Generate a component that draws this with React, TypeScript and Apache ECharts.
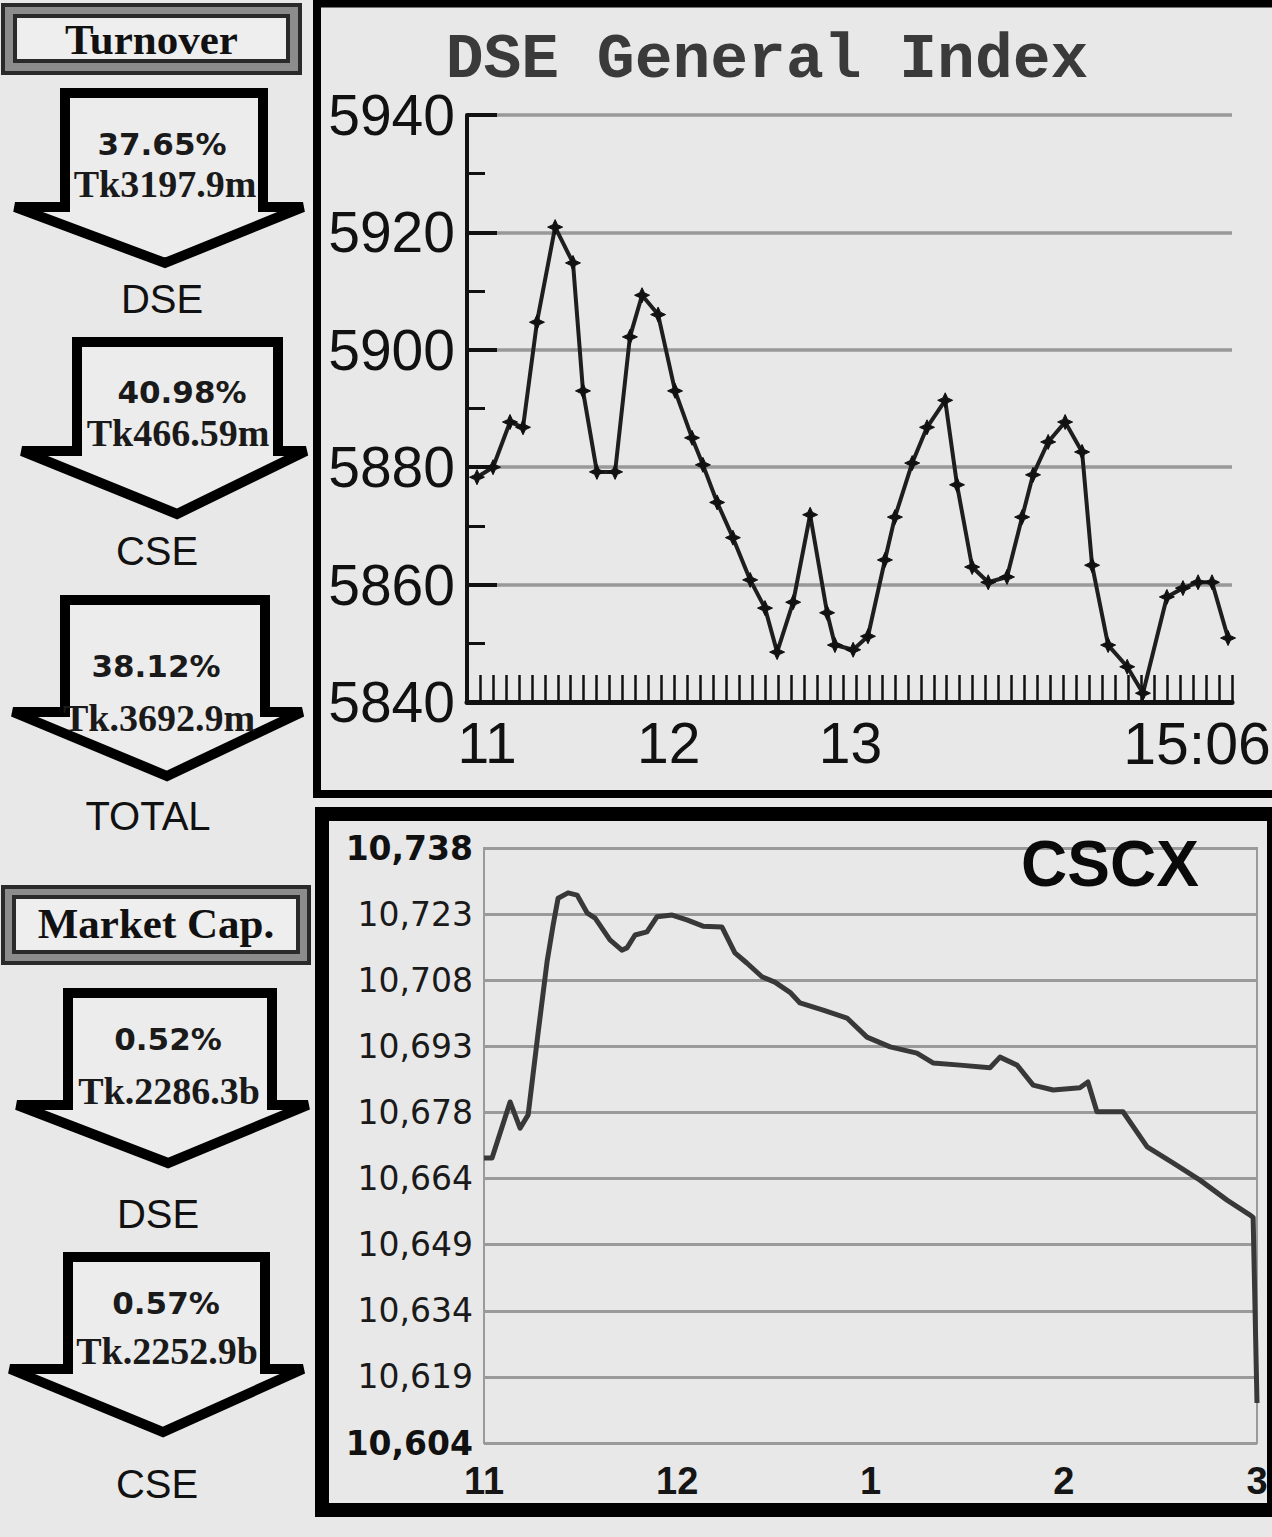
import React, { useEffect, useRef } from 'react';
import * as echarts from 'echarts';

// ---------- DSE General Index (minutes after 11:00, index value) ----------
const dseMinutes = [
  -3.3, 2, 7.6, 11.9, 16.5, 22.5, 28.4, 31.7, 36.3, 42.3, 47.2, 51.2, 56.5, 62.1, 67.7, 71.3,
  76, 81.2, 86.9, 91.8, 95.8, 101.1, 106.7, 112.3, 114.9, 120.9, 125.8, 131.4, 134.7, 140.4,
  145.3, 151.3, 155.2, 160.2, 165.5, 171.7, 176.7, 180.3, 185.3, 190.9, 196.5, 199.8, 205.1,
  211.4, 216.6, 224.5, 229.8, 234.8, 239.4, 244.7,
];
const dseValues = [
  5878.3, 5880, 5887.7, 5886.8, 5904.7, 5920.9, 5914.8, 5893, 5879.2, 5879.2, 5902.2, 5909.3,
  5906, 5893, 5885, 5880.4, 5874, 5868, 5860.8, 5856, 5848.5, 5857, 5871.9, 5855.2, 5849.7,
  5848.9, 5851.2, 5864.2, 5871.5, 5880.7, 5886.8, 5891.4, 5877, 5863, 5860.4, 5861.3, 5871.5,
  5878.7, 5884.3, 5887.7, 5882.6, 5863.3, 5849.7, 5846, 5841.5, 5857.9, 5859.4, 5860.4, 5860.4,
  5850.9,
];
const dseXLabelMinutes = [0, 60, 120, 246];
const dseXLabelText = ['11', '12', '13', '15:06'];

// ---------- CSCX (minutes after 11:00, index value) ----------
const cscxMinutes = [
  0, 2.5, 8.1, 11.2, 13.7, 16.8, 19.6, 21.5, 23, 26.1, 28.9, 32, 34.5, 39.1, 42.8, 44.4, 46.9,
  50.6, 53.7, 58.4, 63, 68, 73.9, 77.9, 81.6, 86.3, 90.3, 95, 98.1, 105.3, 112.7, 118.9, 126.1,
  134.4, 139.4, 147.8, 157.1, 160.2, 165.5, 170.5, 176.7, 185, 187.5, 190.3, 198.4, 205.9,
  213.9, 222.3, 230.7, 237.5, 238.8, 240,
];
const cscxValues = [
  10668.2, 10668.2, 10680.8, 10674.9, 10677.9, 10696.4, 10712.5, 10720.8, 10726.7, 10727.9,
  10727.4, 10723.4, 10722.2, 10717.3, 10715, 10715.5, 10718.4, 10719.1, 10722.5, 10722.9,
  10721.8, 10720.4, 10720.2, 10714.4, 10712.1, 10709, 10707.8, 10705.5, 10703.1, 10701.5,
  10699.7, 10695.4, 10693.2, 10691.8, 10689.6, 10689.1, 10688.5, 10690.9, 10689.1, 10684.6,
  10683.5, 10684, 10685.3, 10678.6, 10678.6, 10670.7, 10667.1, 10663.2, 10658.7, 10655.5,
  10654.8, 10613,
];
const cscxHourLabels = ['11', '12', '1', '2', '3'];
const cscxYMin = 10604;
const cscxYMax = 10738;
const cscxYSteps = 9;

// ---------- Left panel figures ----------
const turnoverPct = ['37.65%', '40.98%', '38.12%'];
const turnoverAmt = ['Tk3197.9m', 'Tk466.59m', 'Tk.3692.9m'];
const turnoverLabel = ['DSE', 'CSE', 'TOTAL'];
const mcapPct = ['0.52%', '0.57%'];
const mcapAmt = ['Tk.2286.3b', 'Tk.2252.9b'];
const mcapLabel = ['DSE', 'CSE'];

// arrow geometry (layout only)
const arrowLayouts = [
  { l: 65, r: 263, top: 93, wing: 207, wl: 15, wr: 303, tx: 165, ty: 263, px: 162, py: 144, ax: 165, ay: 184, lx: 162, ly: 299 },
  { l: 77, r: 278, top: 342, wing: 451, wl: 22, wr: 306, tx: 177, ty: 514, px: 182, py: 392, ax: 178, ay: 433, lx: 157, ly: 551 },
  { l: 65, r: 265, top: 600, wing: 712, wl: 13, wr: 302, tx: 167, ty: 776, px: 156, py: 666, ax: 159, ay: 718, lx: 148, ly: 816 },
  { l: 68, r: 272, top: 993, wing: 1105, wl: 17, wr: 308, tx: 168, ty: 1163, px: 168, py: 1039, ax: 169, ay: 1091, lx: 158, ly: 1214 },
  { l: 68, r: 265, top: 1257, wing: 1369, wl: 10, wr: 303, tx: 163, ty: 1432, px: 166, py: 1303, ax: 167, ay: 1351, lx: 157, ly: 1484 },
];

const STAR = 'path://M0,-6L1.9,-1.9L6,0L1.9,1.9L0,6L-1.9,1.9L-6,0L-1.9,-1.9Z';

function headerBox(x: number, y: number, w: number, h: number, inset: number, text: string, ty: number) {
  return [
    {
      type: 'rect',
      shape: { x, y, width: w, height: h },
      style: { fill: '#8c8c8c', stroke: '#2a2a2a', lineWidth: 4 },
      z: 50,
    },
    {
      type: 'rect',
      shape: { x: x + inset, y: y + inset - 1, width: w - 2 * inset, height: h - 2 * inset + 1 },
      style: { fill: '#eeeeee', stroke: '#2a2a2a', lineWidth: 4 },
      z: 51,
    },
    {
      type: 'text',
      x: x + w / 2,
      y: ty,
      style: {
        text,
        fill: '#111',
        fontSize: 43,
        fontWeight: 'bold',
        fontFamily: 'Liberation Serif',
        textAlign: 'center',
        textVerticalAlign: 'middle',
      },
      z: 52,
    },
  ];
}

function arrowGroup(i: number, pct: string, amt: string, label: string) {
  const a = arrowLayouts[i];
  return [
    {
      type: 'polygon',
      shape: {
        points: [
          [a.l, a.top], [a.r, a.top], [a.r, a.wing], [a.wr, a.wing],
          [a.tx, a.ty], [a.wl, a.wing], [a.l, a.wing],
        ],
      },
      style: { fill: '#ececec', stroke: '#000', lineWidth: 10, lineJoin: 'miter' },
      z: 50,
    },
    {
      type: 'text', x: a.px, y: a.py,
      style: {
        text: pct, fill: '#1a1a1a', fontSize: 31, fontWeight: 'bold', fontFamily: 'DejaVu Sans',
        textAlign: 'center', textVerticalAlign: 'middle',
      },
      z: 52,
    },
    {
      type: 'text', x: a.ax, y: a.ay,
      style: {
        text: amt, fill: '#1a1a1a', fontSize: 38, fontWeight: 'bold', fontFamily: 'Liberation Serif',
        textAlign: 'center', textVerticalAlign: 'middle',
      },
      z: 52,
    },
    {
      type: 'text', x: a.lx, y: a.ly,
      style: {
        text: label, fill: '#111', fontSize: 40, fontFamily: 'Liberation Sans',
        textAlign: 'center', textVerticalAlign: 'middle',
      },
      z: 52,
    },
  ];
}

export default function App() {
  const ref = useRef<HTMLDivElement>(null);

  useEffect(() => {
    const chart = echarts.init(ref.current as HTMLDivElement, null, { renderer: 'svg' });

    const DSE_X_MIN = -6.6;
    const DSE_X_MAX = 246;
    const tickCount = 59;
    const dseTicks: number[] = [];
    for (let i = 0; i <= tickCount; i++) {
      dseTicks.push(DSE_X_MIN + (i * (DSE_X_MAX - DSE_X_MIN)) / tickCount);
    }

    const cscxInterval = (cscxYMax - cscxYMin) / cscxYSteps;

    const graphics: any[] = [];
    graphics.push(...headerBox(3, 5, 297, 68, 12, 'Turnover', 39));
    turnoverPct.forEach((p, i) => graphics.push(...arrowGroup(i, p, turnoverAmt[i], turnoverLabel[i])));
    graphics.push(...headerBox(3, 887, 306, 76, 11, 'Market Cap.', 923));
    mcapPct.forEach((p, i) => graphics.push(...arrowGroup(i + 3, p, mcapAmt[i], mcapLabel[i])));

    // frames
    graphics.push({
      type: 'rect',
      shape: { x: 317, y: 3.5, width: 962, height: 790.5 },
      style: { fill: 'none', stroke: '#000', lineWidth: 8 },
      z: 100,
    });
    graphics.push({
      type: 'rect',
      shape: { x: 322, y: 814, width: 952, height: 696 },
      style: { fill: 'none', stroke: '#000', lineWidth: 14 },
      z: 100,
    });
    // titles
    graphics.push({
      type: 'text', x: 767, y: 60,
      style: {
        text: 'DSE General Index', fill: '#3a3a3a', fontSize: 63, fontWeight: 'bold',
        fontFamily: 'Liberation Mono', textAlign: 'center', textVerticalAlign: 'middle',
      },
      z: 60,
    });
    graphics.push({
      type: 'text', x: 1110, y: 864,
      style: {
        text: 'CSCX', fill: '#0a0a0a', fontSize: 64, fontWeight: 'bold',
        fontFamily: 'Liberation Sans', textAlign: 'center', textVerticalAlign: 'middle',
      },
      z: 60,
    });

    const option: any = {
      animation: false,
      backgroundColor: '#e8e8e8',
      grid: [
        { left: 467, top: 115, width: 765, height: 587, containLabel: false, outerBoundsMode: 'none' },
        {
          left: 484, top: 848, width: 773, height: 595, containLabel: false, outerBoundsMode: 'none',
          show: true, borderColor: '#9a9a9a', borderWidth: 2, backgroundColor: 'transparent',
        },
      ],
      xAxis: [
        {
          type: 'value', gridIndex: 0, min: DSE_X_MIN, max: DSE_X_MAX,
          axisLine: { show: true, onZero: false, lineStyle: { color: '#111', width: 5 } },
          axisTick: {
            show: true, inside: true, length: 27, customValues: dseTicks,
            lineStyle: { color: '#111', width: 2.5 },
          },
          splitLine: { show: false },
          axisLabel: {
            customValues: dseXLabelMinutes,
            formatter: (v: number) => {
              const idx = dseXLabelMinutes.findIndex((m) => Math.abs(m - v) < 0.01);
              if (idx < 0) return '';
              if (idx === dseXLabelMinutes.length - 1) return '{end|' + dseXLabelText[idx] + '}';
              return dseXLabelText[idx];
            },
            fontSize: 57, color: '#111', fontFamily: 'Liberation Sans', margin: 12,
            rich: {
              end: { fontSize: 59, color: '#111', fontFamily: 'Liberation Sans', padding: [0, 70, 0, 0] },
            },
          },
        },
        {
          type: 'value', gridIndex: 1, min: 0, max: 240, interval: 60,
          axisLine: { show: false },
          axisTick: { show: false },
          splitLine: { show: false },
          axisLabel: {
            formatter: (v: number) => cscxHourLabels[Math.round(v / 60)] ?? '',
            fontSize: 38, color: '#151515', fontFamily: 'Liberation Sans Narrow, Liberation Sans',
            fontWeight: 'bold', margin: 19,
          },
        },
      ],
      yAxis: [
        {
          type: 'value', gridIndex: 0, min: 5840, max: 5940, interval: 20,
          axisLine: { show: true, onZero: false, lineStyle: { color: '#111', width: 4 } },
          axisTick: { show: true, inside: true, length: 30, lineStyle: { color: '#111', width: 4 } },
          minorTick: { show: true, splitNumber: 2, length: 18, lineStyle: { color: '#111', width: 3 } },
          splitLine: { show: true, lineStyle: { color: '#999999', width: 3.5 } },
          axisLabel: {
            formatter: (v: number) => String(Math.round(v)),
            fontSize: 57, color: '#111', fontFamily: 'Liberation Sans', margin: 12,
          },
        },
        {
          type: 'value', gridIndex: 1, min: cscxYMin, max: cscxYMax - 1e-6, interval: cscxInterval,
          axisLine: { show: false },
          axisTick: { show: false },
          splitLine: { show: true, lineStyle: { color: '#9a9a9a', width: 3 } },
          axisLabel: {
            formatter: (v: number) => {
              const r = Math.round(v);
              const s = r.toLocaleString('en-US');
              return r === cscxYMin || r === cscxYMax ? '{b|' + s + '}' : s;
            },
            fontSize: 33, color: '#1a1a1a', fontFamily: 'DejaVu Sans', margin: 11,
            rich: {
              b: { fontSize: 33, fontWeight: 'bold', color: '#111', fontFamily: 'DejaVu Sans' },
            },
          },
        },
      ],
      series: [
        {
          type: 'line', xAxisIndex: 0, yAxisIndex: 0,
          data: dseMinutes.map((m, i) => [m, dseValues[i]]),
          symbol: STAR, symbolSize: 15, showAllSymbol: true,
          lineStyle: { color: '#1e1e1e', width: 4 },
          itemStyle: { color: '#111', borderColor: '#111', borderWidth: 1 },
          z: 5,
        },
        {
          type: 'line', xAxisIndex: 1, yAxisIndex: 1,
          data: cscxMinutes.map((m, i) => [m, cscxValues[i]]),
          symbol: 'none', showSymbol: false,
          lineStyle: { color: '#383838', width: 5, join: 'round' },
          z: 5,
        },
      ],
      graphic: graphics,
    };

    chart.setOption(option);
    return () => chart.dispose();
  }, []);

  return (
    <div
      ref={ref}
      style={{ position: 'absolute', left: 0, top: 0, width: 1272, height: 1537 }}
    />
  );
}
